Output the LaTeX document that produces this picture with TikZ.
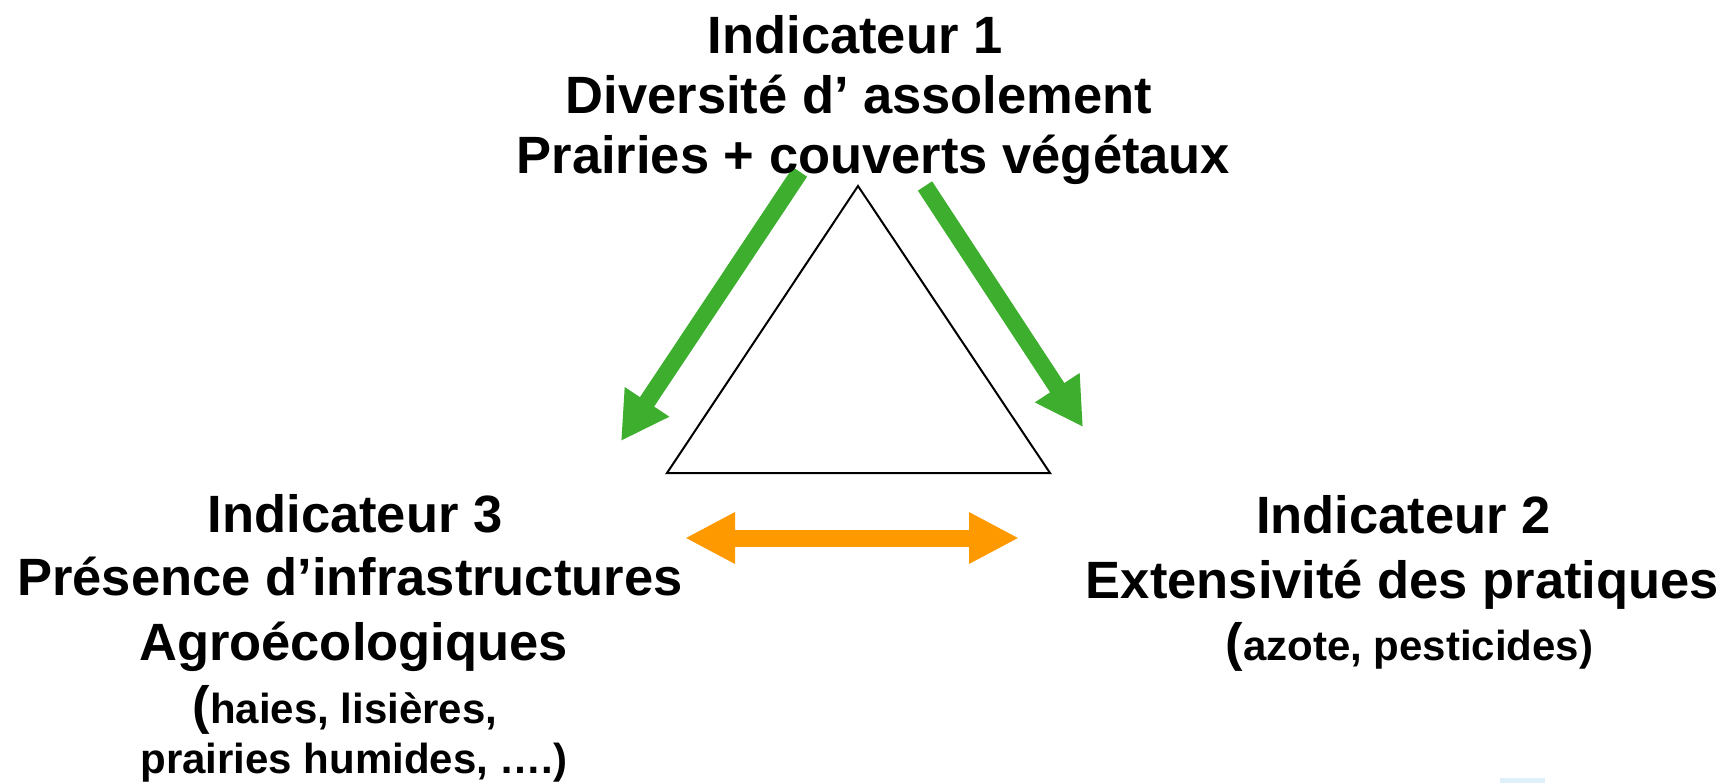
\documentclass[tikz,border=0pt]{standalone}
\usepackage{fontspec}
\setmainfont{Liberation Sans}
\usetikzlibrary{arrows.meta}
\definecolor{arrowgreen}{RGB}{61,174,46}
\definecolor{arroworange}{RGB}{255,153,0}
\definecolor{smudge}{RGB}{222,240,250}
\begin{document}
\begin{tikzpicture}[x=1pt,y=-1pt,
  big/.style={font=\bfseries\fontsize{52.5}{60}\selectfont, anchor=base, inner sep=0pt},
  small/.style={font=\bfseries\fontsize{42}{50}\selectfont, anchor=base, inner sep=0pt},
  greenarrow/.style={draw=arrowgreen, line width=17pt, -{Triangle[length=47pt,width=50pt]}},
  orangearrow/.style={draw=arroworange, line width=17pt, {Triangle[length=50pt,width=48pt]}-{Triangle[length=50pt,width=48pt]}},
  tri/.style={draw=black, line width=2pt, line join=miter}]
\useasboundingbox (0,0) rectangle (1730,783);
\fill[white] (0,0) rectangle (1730,783);
% triangle
\coordinate (tA) at (858,186);
\coordinate (tL) at (667,473);
\coordinate (tR) at (1050,473);
\draw[tri] (tA) -- (tL) -- (tR) -- cycle;
% arrows
\coordinate (g1s) at (800,172);
\coordinate (g1e) at (621,441);
\coordinate (g2s) at (925,186);
\coordinate (g2e) at (1083,427);
\coordinate (os) at (685,538);
\coordinate (oe) at (1019,538);
\draw[greenarrow] (g1s) -- (g1e);
\draw[greenarrow] (g2s) -- (g2e);
\draw[orangearrow] (os) -- (oe);
\fill[smudge] (1500,778) rectangle (1545,783);
% Indicateur 1
\node[big] (i1a) at (855,54) {Indicateur 1};
\node[big] (i1b) at (859,114) {Diversité d’ assolement};
\node[big] (i1c) at (873.5,174) {Prairies + couverts végétaux};
% Indicateur 3
\node[big] (i3a) at (355,532) {Indicateur 3};
\node[big] (i3b) at (350,595) {Présence d’infrastructures};
\node[big] (i3c) at (353.5,660) {Agroécologiques};
\node[small] (i3d) at (345,723) {{\fontsize{52.5}{60}\selectfont(}haies, lisières,};
\node[small] (i3e) at (354,773) {prairies humides, ….)};
% Indicateur 2
\node[big] (i2a) at (1403.5,533) {Indicateur 2};
\node[big] (i2b) at (1402.5,598) {Extensivité des pratiques};
\node[small] (i2c) at (1409.5,660) {{\fontsize{52.5}{60}\selectfont(}azote, pesticides)};
\end{tikzpicture}
\end{document}
